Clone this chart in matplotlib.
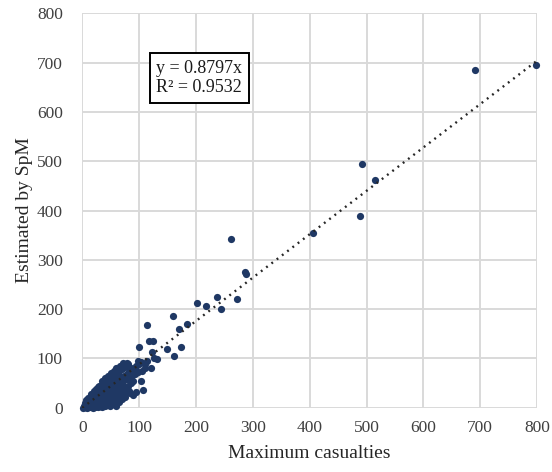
import numpy as np
import matplotlib.pyplot as plt

plt.rcParams['font.family'] = ['Liberation Serif', 'DejaVu Serif']

# casualties: (maximum, estimated by SpM)
max_cas = [
    # bottom row
    2, 5, 8, 10, 13, 16, 19, 22, 25, 28, 31, 34, 37, 40, 44, 48, 52, 60,
    # under the line
    12, 18, 24, 30, 36, 42, 48, 55, 62, 68, 75, 82, 90, 95, 104, 107, 84,
    # on the line
    3, 6, 9, 12, 15, 18, 21, 24, 27, 30, 33, 36, 39, 42, 45, 48, 51, 54, 57, 60,
    63, 66, 70, 74, 78, 82, 86, 90, 95, 100,
    # above the line
    4, 7, 10, 13, 15, 18, 20, 22, 25, 27, 30, 32, 35, 37, 40, 42, 45, 47, 50, 52,
    55, 58, 60, 63, 66, 70, 72, 75, 80, 74, 79, 85, 98, 103,
    # fill
    20, 25, 30, 35, 40, 45, 50, 55, 60, 65, 28, 33, 38, 43, 48, 53, 58, 63, 68, 72,
    78, 85, 92, 98, 105, 110, 8, 14, 20, 26, 32, 38, 44, 50, 56, 64, 70, 76,
    35, 40, 45, 50, 55, 60, 65, 70, 75, 80, 85, 90,
    # larger events
    111, 114, 121, 122, 127, 131, 149, 162, 174, 99, 118, 124, 114, 171, 184, 159,
    201, 218, 244, 237, 272, 261, 286, 288, 405, 489, 492, 515, 690, 798,
]
est_spm = [
    0, 1, 0, 2, 1, 3, 0, 2, 4, 1, 3, 2, 5, 3, 6, 4, 8, 3,
    8, 10, 12, 14, 16, 18, 22, 25, 20, 28, 30, 35, 25, 32, 55, 36, 30,
    4, 6, 8, 11, 13, 16, 19, 21, 24, 27, 29, 32, 34, 37, 40, 42, 45, 48, 50, 53,
    55, 58, 62, 65, 69, 72, 76, 79, 84, 88,
    10, 15, 20, 18, 28, 25, 35, 30, 38, 42, 45, 38, 55, 50, 60, 52, 65, 58, 70, 62,
    75, 68, 80, 72, 85, 78, 90, 82, 88, 84, 90, 80, 95, 92,
    22, 28, 32, 40, 45, 48, 55, 58, 62, 66, 20, 22, 26, 30, 35, 38, 42, 45, 50, 55,
    58, 62, 68, 72, 75, 80, 3, 6, 5, 8, 10, 12, 14, 16, 15, 12, 18, 22,
    20, 22, 25, 28, 30, 30, 35, 38, 42, 45, 50, 55,
    88, 95, 80, 114, 101, 99, 119, 105, 124, 124, 136, 136, 168, 160, 170, 187,
    212, 206, 200, 225, 221, 342, 276, 271, 355, 389, 495, 461, 685, 695,
]
slope = 0.8797
r2 = 0.9532

x = np.array(max_cas)
y = np.array(est_spm)

fig = plt.figure(figsize=(5.52, 4.72), dpi=100)
ax = fig.add_axes([0.149, 0.136, 0.824, 0.836])

ax.scatter(x, y, s=27, color='#1F3864', zorder=3, clip_on=False, linewidths=0)
xf = np.array([0, 800])
ax.plot(xf, slope * xf, color='#262626', lw=1.7, linestyle=(0, (0.8, 2.0)), zorder=4)

ax.set_xlim(0, 800)
ax.set_ylim(0, 800)
ax.set_xticks(range(0, 801, 100))
ax.set_yticks(range(0, 801, 100))
ax.grid(True, color='#D9D9D9', lw=1.4)
ax.set_axisbelow(True)
for s in ax.spines.values():
    s.set_visible(False)
ax.tick_params(length=0, labelsize=12.5, labelcolor='#404040')
ax.tick_params(axis='y', pad=14)
ax.tick_params(axis='x', pad=9)

ax.set_xlabel('Maximum casualties', fontsize=14, color='#262626', labelpad=6)
ax.set_ylabel('Estimated by SpM', fontsize=14, color='#262626', labelpad=3)

ax.text(0.163, 0.882, f'y = {slope}x\nR² = {r2}', transform=ax.transAxes,
        fontsize=13, ha='left', va='top', linespacing=1.2, color='#1a1a1a',
        bbox=dict(boxstyle='square,pad=0.35', fc='white', ec='black', lw=1.4))

fig.savefig('out.png', dpi=100)
